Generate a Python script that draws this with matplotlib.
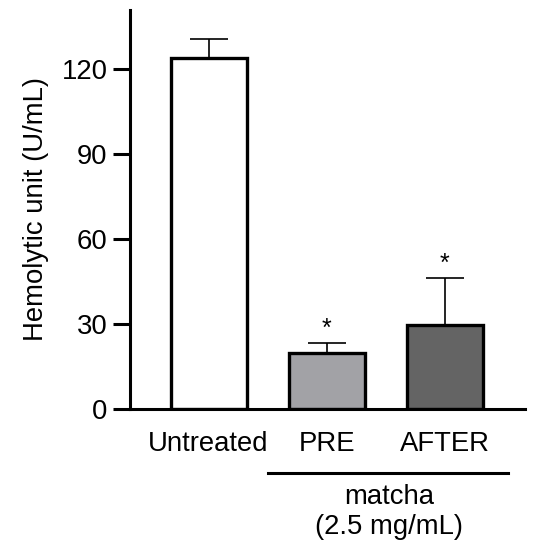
import numpy as np
import matplotlib
matplotlib.use('Agg')
from matplotlib import pyplot as plt

plt.rcParams['font.family'] = ['Liberation Sans', 'DejaVu Sans']

# data
groups = ['Untreated', 'PRE', 'AFTER']
values = [123.8, 19.9, 29.6]
errors = [6.6, 3.2, 16.7]
colors = ['white', '#a2a2a6', '#646464']
stars = ['', '*', '*']

fs = 19.8

fig = plt.figure(figsize=(5.41, 5.5), dpi=100)
ax = fig.add_axes([0.240, 0.2564, 0.730, 0.7255])

x = np.arange(len(groups))
ax.errorbar(x, values, yerr=[np.zeros(len(values)), errors], fmt='none',
            ecolor='black', elinewidth=1.2, capsize=14, capthick=1.2, zorder=1)
ax.bar(x, values, width=0.645, color=colors, edgecolor='black', linewidth=2.4, zorder=2)

for xi, v, e, s in zip(x, values, errors, stars):
    if s:
        ax.text(xi, v + e + 5.0, s, ha='center', va='center', fontsize=18)

ax.set_xlim(-0.667, 2.678)
ax.set_ylim(0, 140.7)
ax.set_yticks([0, 30, 60, 90, 120])
ax.set_xticks(x)
ax.set_xticklabels(groups)
ax.tick_params(axis='y', labelsize=fs, width=2.2, length=12, pad=4)
ax.tick_params(axis='x', labelsize=fs, length=0, pad=16)
ax.set_ylabel('Hemolytic unit (U/mL)', fontsize=fs, labelpad=9)

for side in ['top', 'right']:
    ax.spines[side].set_visible(False)
for side in ['left', 'bottom']:
    ax.spines[side].set_linewidth(2.2)

# group bracket under PRE / AFTER
ax.plot([0.5, 2.54], [-22.7, -22.7], color='black', lw=2.2, clip_on=False)
ax.text(1.53, -26.3, 'matcha\n(2.5 mg/mL)', ha='center', va='top', fontsize=fs,
        linespacing=1.2)

fig.savefig('out.png', dpi=100)
